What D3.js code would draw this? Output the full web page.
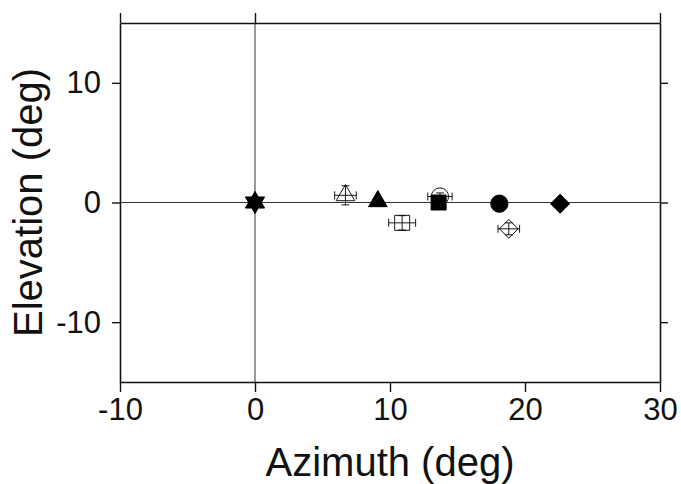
<!DOCTYPE html>
<html>
<head>
<meta charset="utf-8">
<script src="https://cdn.jsdelivr.net/npm/d3@7"></script>
<style>
  body { margin: 0; background: #fff; }
  svg { display: block; font-family: "Liberation Sans", Arial, Helvetica, sans-serif; }
</style>
</head>
<body>
<svg id="chart"></svg>
<script>
// source positions (deg)
const azimuth   = [0,    6.7, 9.1, 10.9, 13.7, 13.6, 18.1, 18.8, 22.6];
const elevation = [0,    0.6, 0.1, -1.7, 0.5,  0.0,  -0.1, -2.2, -0.1];
const azError   = [0,    0.8, 0,   1.0,  0.9,  0,    0,    0.8,  0];
const elError   = [0,    0.8, 0,   0.6,  0.3,  0,    0,    0.5,  0];
const shape     = ['star', 'triangle', 'triangle', 'square', 'circle', 'square', 'circle', 'diamond', 'diamond'];
const filled    = [true, false, true, false, false, true, true, false, true];

const xTicks = [-10, 0, 10, 20, 30];
const yTicks = [-10, 0, 10];
const topTicks = [-10, 0, 30];

const width = 681;
const height = 484;
const margin = {top: 23, right: 21, bottom: 102, left: 120};

// six pointed star
const hexagram = {
  draw(context, size) {
    const R = Math.sqrt(size / 1.3);
    const r = R / Math.sqrt(3);
    for (let i = 0; i < 12; ++i) {
      const a = Math.PI / 6 * i - Math.PI / 2;
      const rr = i % 2 === 0 ? R : r;
      if (i === 0) context.moveTo(rr * Math.cos(a), rr * Math.sin(a));
      else context.lineTo(rr * Math.cos(a), rr * Math.sin(a));
    }
    context.closePath();
  }
};

const symbolType = {
  star: hexagram,
  triangle: d3.symbolTriangle,
  square: d3.symbolSquare,
  circle: d3.symbolCircle,
  diamond: d3.symbolSquare
};
const symbolSize = {star: 160, triangle: 150, square: 225, circle: 235, diamond: 175};

const x = d3.scaleLinear().domain([-10, 30]).range([margin.left, width - margin.right]);
const y = d3.scaleLinear().domain([-15, 15]).range([height - margin.bottom, margin.top]);

const svg = d3.select('#chart').attr('width', width).attr('height', height)
  .attr('viewBox', [0, 0, width, height]);

// gridlines through the origin
svg.append('line')
  .attr('x1', x(0)).attr('x2', x(0))
  .attr('y1', y(15)).attr('y2', y(-15))
  .attr('stroke', '#333').attr('stroke-width', 1);
svg.append('line')
  .attr('x1', x(-10)).attr('x2', x(30))
  .attr('y1', y(0)).attr('y2', y(0))
  .attr('stroke', '#333').attr('stroke-width', 1);

function styleAxis(g) {
  g.selectAll('.domain').attr('stroke', '#111').attr('stroke-width', 1.6);
  g.selectAll('.tick line').attr('stroke', '#111').attr('stroke-width', 1.4);
  g.selectAll('.tick text').attr('fill', '#111').attr('font-size', 31)
    .attr('font-family', '"Liberation Sans", Arial, Helvetica, sans-serif');
}

const fmt = d => String(d);

svg.append('g')
  .attr('transform', `translate(0,${y(-15)})`)
  .call(d3.axisBottom(x).tickValues(xTicks).tickFormat(fmt).tickSize(10).tickPadding(6).tickSizeOuter(0))
  .call(styleAxis);

svg.append('g')
  .attr('transform', `translate(0,${y(15)})`)
  .call(d3.axisTop(x).tickValues(topTicks).tickSize(10).tickFormat('').tickSizeOuter(0))
  .call(styleAxis);

svg.append('g')
  .attr('transform', `translate(${x(-10)},0)`)
  .call(d3.axisLeft(y).tickValues(yTicks).tickFormat(fmt).tickSize(8).tickPadding(11).tickSizeOuter(0))
  .call(styleAxis);

svg.append('g')
  .attr('transform', `translate(${x(30)},0)`)
  .call(d3.axisRight(y).tickValues(yTicks).tickSize(8).tickFormat('').tickSizeOuter(0))
  .call(styleAxis);

// axis titles
svg.append('text')
  .attr('x', (x(-10) + x(30)) / 2)
  .attr('y', 476)
  .attr('text-anchor', 'middle')
  .attr('font-size', 40)
  .attr('fill', '#111')
  .text('Azimuth (deg)');

svg.append('text')
  .attr('transform', `translate(42,${(y(15) + y(-15)) / 2}) rotate(-90)`)
  .attr('text-anchor', 'middle')
  .attr('font-size', 40)
  .attr('fill', '#111')
  .text('Elevation (deg)');

const pts = azimuth.map((az, i) => ({
  az, el: elevation[i], dx: azError[i], dy: elError[i], shape: shape[i], filled: filled[i]
}));

// open markers first so the filled ones sit on top
const order = pts.slice().sort((a, b) => (a.filled === b.filled ? 0 : a.filled ? 1 : -1));

const marks = svg.append('g')
  .selectAll('g')
  .data(order)
  .join('g')
  .attr('transform', d => `translate(${x(d.az)},${y(d.el)})`);

marks.append('path')
  .attr('d', d => d3.symbol().type(symbolType[d.shape]).size(symbolSize[d.shape])())
  .attr('transform', d => d.shape === 'diamond' ? 'rotate(45)' : null)
  .attr('fill', d => d.filled ? '#000' : '#fff')
  .attr('fill-opacity', d => d.filled ? 1 : 0)
  .attr('stroke', '#000')
  .attr('stroke-width', d => d.filled ? 1 : 0.9);

// error bars
const cap = 4;
marks.filter(d => d.dx > 0 || d.dy > 0)
  .append('path')
  .attr('fill', 'none')
  .attr('stroke', '#000')
  .attr('stroke-width', 0.9)
  .attr('d', d => {
    const hx = x(d.az + d.dx) - x(d.az);
    const hy = y(d.el) - y(d.el + d.dy);
    return `M${-hx},0H${hx}M${-hx},${-cap}V${cap}M${hx},${-cap}V${cap}` +
      `M0,${-hy}V${hy}M${-cap},${-hy}H${cap}M${-cap},${hy}H${cap}`;
  });
</script>
</body>
</html>
